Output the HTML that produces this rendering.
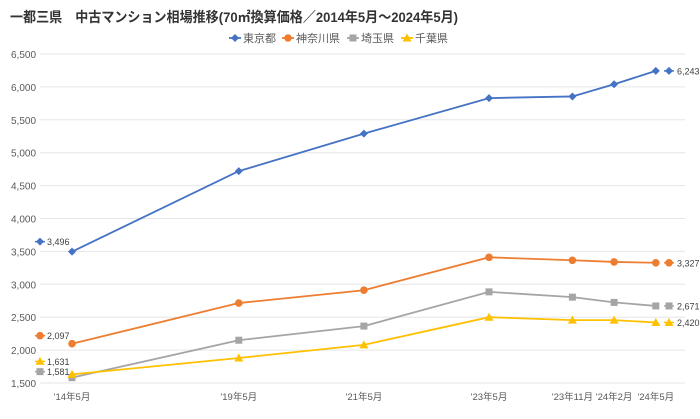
<!DOCTYPE html>
<html><head><meta charset="utf-8"><style>
body{margin:0;background:#fff;}
svg{display:block;font-family:"Liberation Sans","Noto Sans CJK JP",sans-serif;}
</style></head><body>
<svg id="c" width="700" height="419">
<text x="10" y="22" font-size="14" font-weight="bold" fill="#333" textLength="448" lengthAdjust="spacingAndGlyphs">一都三県　中古マンション相場推移(70㎡換算価格／2014年5月～2024年5月)</text>
<g id="legend"></g>
<g id="grid"></g><g id="series"></g><g id="labels"></g>
</svg>
<script>
const categories=["'14年5月","'19年5月","'21年5月","'23年5月","'23年11月","'24年2月","'24年5月"];
const slots=[0,4,7,10,12,13,14];
const seriesNames=["東京都","神奈川県","埼玉県","千葉県"];
const tokyo=[3496,4720,5290,5830,5855,6040,6243];
const kanagawa=[2097,2715,2910,3410,3365,3340,3327];
const saitama=[1581,2150,2365,2885,2805,2725,2671];
const chiba=[1631,1880,2080,2500,2455,2455,2420];
const yTicks=[1500,2000,2500,3000,3500,4000,4500,5000,5500,6000,6500];
const colors=["#4472C4","#ED7D31","#A5A5A5","#FFC000"];
const markers=["diamond","circle","square","triangle"];
const startOffsets=[-10,-8,-6,-13];
const NS="http://www.w3.org/2000/svg";
const svg=document.getElementById('c');
function x(i){return 72+slots[i]*41.7;}
function y(v){return 383-(v-1500)/5000*329;}
function el(t,a,p){const e=document.createElementNS(NS,t);for(const k in a)e.setAttribute(k,a[k]);p.appendChild(e);return e;}
function fmt(v){return v.toLocaleString('en-US');}
function marker(kind,cx,cy,col,p){
 let e;
 if(kind==="diamond")e=el('polygon',{points:`${cx},${cy-4} ${cx+4},${cy} ${cx},${cy+4} ${cx-4},${cy}`,fill:col},p);
 else if(kind==="circle")e=el('circle',{cx,cy,r:3.8,fill:col},p);
 else if(kind==="square")e=el('rect',{x:cx-3.5,y:cy-3.5,width:7,height:7,fill:col},p);
 else e=el('polygon',{points:`${cx},${cy-4.5} ${cx+4.5},${cy+3.5} ${cx-4.5},${cy+3.5}`,fill:col},p);
 return e;
}
const grid=document.getElementById('grid');
yTicks.forEach(v=>{
 const l=el('line',{x1:40,x2:685,y1:y(v),y2:y(v),stroke:"#e6e6e6","stroke-width":1},grid);
 
 
 const t=el('text',{x:36,y:y(v)+4,"text-anchor":"end","font-size":"10.5",fill:"#595959",textLength:"25",lengthAdjust:"spacingAndGlyphs"},grid);
 t.textContent=fmt(v);
 
 
});
categories.forEach((c,i)=>{
 const t=el('text',{x:x(i),y:400,"text-anchor":"middle","font-size":"9.5",fill:"#595959"},grid);
 t.textContent=c;
 
 
});
const data=[tokyo,kanagawa,saitama,chiba];
const sg=document.getElementById('series'),lg=document.getElementById('labels');
data.forEach((d,s)=>{
 const g=el('g',{},sg);
 
 
 const pl=el('polyline',{points:d.map((v,i)=>x(i)+','+y(v)).join(' '),fill:'none',stroke:colors[s],"stroke-width":1.8},g);
 
 
 d.forEach((v,i)=>{const m=marker(markers[s],x(i),y(v),colors[s],g);
  
  });
 const sy=y(d[0])+startOffsets[s];
 const ln=el('line',{x1:35,x2:45,y1:sy,y2:sy,stroke:colors[s],"stroke-width":1.5},lg);
 
 
 marker(markers[s],40,sy,colors[s],lg);
 const st=el('text',{x:47,y:sy+3.5,"font-size":"9",fill:"#404040"},lg);
 st.textContent=fmt(d[0]);
 
 
 const ey=y(d[d.length-1]);
 const ln2=el('line',{x1:664,x2:674,y1:ey,y2:ey,stroke:colors[s],"stroke-width":1.5},lg);
 
 
 marker(markers[s],669,ey,colors[s],lg);
 const et=el('text',{x:677,y:ey+3.5,"font-size":"9",fill:"#404040"},lg);
 et.textContent=fmt(d[d.length-1]);
 
 
});
const leg=document.getElementById('legend');
const legX=[229,282,347,401];
seriesNames.forEach((n,s)=>{
 const g=el('g',{},leg);
 
 
 el('line',{x1:legX[s],x2:legX[s]+12,y1:38,y2:38,stroke:colors[s],"stroke-width":1.8},g);
 marker(markers[s],legX[s]+6,38,colors[s],g);
 const t=el('text',{x:legX[s]+14,y:42,"font-size":"11",fill:"#595959"},g);
 t.textContent=n;
});
</script>
</body></html>
